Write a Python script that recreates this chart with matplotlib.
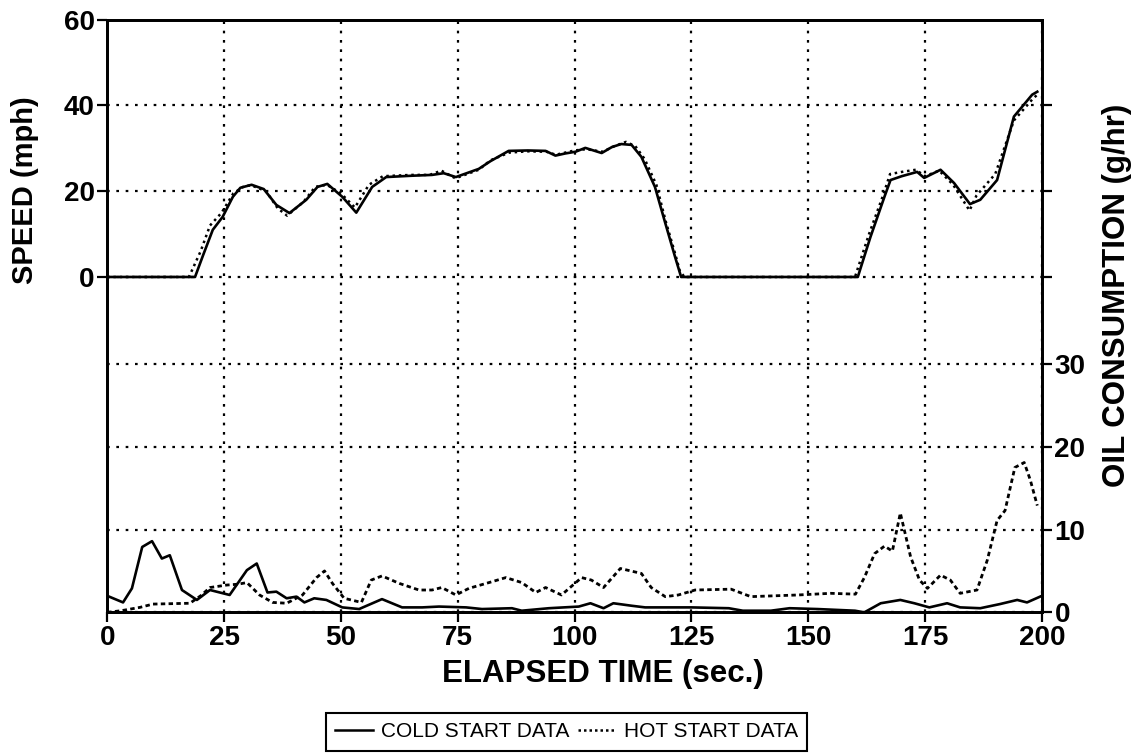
import matplotlib
matplotlib.use('Agg')
import matplotlib.pyplot as plt
from matplotlib.lines import Line2D

plt.rcParams['font.family'] = ['Liberation Sans', 'DejaVu Sans']

# speed traces (mph)
speed_t_cold = [0, 18.8, 20.5, 22.6, 24.7, 26.9, 28.5, 30.9, 33.5, 36.2, 39, 42.6, 45, 47.1, 50.3,
                53.3, 56.7, 59.7, 65, 69.5, 72, 74.6, 79.5, 82, 85.9, 90, 93.8, 95.9, 98, 100.2,
                102.3, 105.8, 108, 110, 112.2, 114.3, 117.2, 119.4, 121.5, 122.8, 140, 160.6, 163.3,
                166.3, 167.6, 170, 173.3, 174.8, 178.3, 181.2, 184.6, 186.8, 190.4, 194, 197.9, 199]
speed_cold = [0, 0, 5, 11, 14, 18.7, 20.8, 21.5, 20.5, 16.8, 14.9, 18, 21, 21.7, 18.7,
              15, 21, 23.3, 23.6, 23.8, 24.2, 23.3, 25.2, 27, 29.4, 29.5, 29.4, 28.3, 28.8, 29.2,
              30.1, 28.9, 30.3, 31, 30.8, 28, 21, 12.6, 4.7, 0, 0, 0, 9.3,
              18.7, 22.6, 23.5, 24.5, 23.1, 25, 21.9, 17, 18, 22.6, 37.4, 42.5, 43.2]

speed_t_hot = [0, 17.5, 20, 22, 24.5, 27, 29.5, 31, 34, 36.5, 38.5, 42, 44.5, 47, 50, 53, 56, 59,
               65, 69, 71.5, 74.5, 79.5, 82, 86, 90, 94, 96, 98, 100, 102.5, 106, 108.5, 111, 113,
               115, 117.5, 119.5, 121.5, 122.5, 123.5, 140, 160, 163, 166, 167.5, 170, 173, 175,
               178, 181, 184.5, 186, 190, 194, 198, 199]
speed_hot = [0, 0, 6, 12, 15, 19.5, 21.3, 21.3, 20.0, 16.0, 14.3, 17.5, 21.0, 21.5, 19.5, 16.2, 21.5, 23.5,
             23.8, 23.8, 24.8, 23.0, 25.0, 27.2, 29.0, 29.3, 29.2, 28.5, 29.0, 29.5, 29.8, 29.2, 30.5, 31.5, 30.5,
             27.5, 21.5, 13.0, 5.5, 1.5, 0, 0, 0, 10, 19, 24, 24.5, 25.0, 23.5,
             24.8, 21.5, 15.5, 19, 24, 36.5, 41.5, 42.5]

# oil consumption traces (g/hr)
oil_t_cold = [0, 1.7, 3.4, 5.3, 7.5, 9.6, 11.7, 13.4, 16, 19.2, 22, 24.1, 26.2, 29.9, 32, 34.3, 36.2,
              38.4, 40.5, 42.2, 44.3, 46.9, 50.3, 53.9, 58.8, 63.1, 67.4, 71, 76.8, 80.2, 86.6, 88.7,
              94.5, 100.9, 103.4, 106.2, 108.3, 112.2, 115.1, 125, 133, 136, 142, 146, 152, 160, 162,
              165.5, 169.7, 172.7, 175.9, 179.7, 182.5, 186.8, 191, 194.7, 196.8, 200]
oil_cold = [2.0, 1.6, 1.2, 2.9, 7.9, 8.6, 6.5, 6.9, 2.7, 1.5, 2.7, 2.4, 2.1, 5.1, 5.9, 2.4, 2.5,
            1.7, 1.9, 1.2, 1.7, 1.5, 0.6, 0.4, 1.6, 0.6, 0.6, 0.7, 0.6, 0.4, 0.5, 0.2,
            0.5, 0.7, 1.1, 0.5, 1.1, 0.8, 0.6, 0.6, 0.5, 0.2, 0.2, 0.5, 0.4, 0.2, 0,
            1.1, 1.5, 1.1, 0.6, 1.1, 0.6, 0.5, 1.0, 1.5, 1.2, 2.0]

oil_t_hot = [0, 3, 7, 9.8, 17.7, 20, 22, 25.6, 28, 29.9, 32.6, 35.4, 38.4, 41.8, 44.8, 46.5, 48.2,
             50.7, 54.4, 56.5, 58.8, 62.5, 66.7, 69.5, 71.6, 74.6, 77.4, 81.7, 85.3, 88.7, 91.7,
             93.8, 97.2, 101.5, 103.6, 106.2, 109.8, 114.3, 116.4, 119.4, 122.2, 125.8, 133.5,
             137.7, 147.8, 154.8, 160.1, 162, 164.2, 166.3, 168, 169.7, 171.9, 173.8, 175.5, 178.3,
             180.4, 182.5, 186.1, 188.3, 190.4, 192.1, 194.2, 196.2, 197.5, 199]
oil_hot = [0, 0.2, 0.6, 1.0, 1.1, 2.0, 3.0, 3.3, 3.4, 3.6, 2.1, 1.2, 1.1, 2.1, 4.2, 5.0, 3.5,
           1.7, 1.2, 3.9, 4.4, 3.5, 2.7, 2.7, 3.0, 2.1, 2.9, 3.6, 4.2, 3.6, 2.4,
           3.0, 2.1, 4.2, 3.9, 3.0, 5.3, 4.7, 3.0, 1.9, 2.1, 2.7, 2.8,
           1.9, 2.1, 2.3, 2.2, 4.2, 7.1, 8.0, 7.4, 12.0, 6.7, 3.9, 2.9, 4.5,
           3.9, 2.3, 2.7, 6.3, 11.1, 12.3, 17.5, 18.1, 16, 12.9]

x_ticks = [0, 25, 50, 75, 100, 125, 150, 175, 200]
speed_ticks = [0, 20, 40, 60]
oil_ticks = [0, 10, 20, 30]

grid_style = dict(color='black', linestyle=(0, (1.2, 3)), linewidth=1.6)

fig = plt.figure(figsize=(11.4, 7.56), dpi=100)
ax = fig.add_axes([0.094, 0.19, 0.82, 0.784])
ax2 = ax.twinx()

ax.plot(speed_t_hot, speed_hot, color='black', linestyle=(0, (1, 1.5)), linewidth=1.8)
ax.plot(speed_t_cold, speed_cold, color='black', linewidth=1.9)
ax2.plot(oil_t_hot, oil_hot, color='black', linestyle=(0, (1.6, 1.2)), linewidth=2.0)
ax2.plot(oil_t_cold, oil_cold, color='black', linewidth=1.9)

ax.set_xlim(0, 200)
ax.set_ylim(-78.2, 60)
ax2.set_ylim(0, 71.6)
ax.set_xticks(x_ticks)
ax.set_yticks(speed_ticks)
ax2.set_yticks(oil_ticks)

ax.xaxis.grid(True, **grid_style)
ax.yaxis.grid(True, **grid_style)
ax2.yaxis.grid(True, **grid_style)

for a in (ax, ax2):
    for s in a.spines.values():
        s.set_linewidth(2)
ax.tick_params(axis='both', direction='out', length=7, width=1.6, labelsize=20, pad=2)
ax.tick_params(axis='y', right=True, labelright=False)
ax2.tick_params(axis='y', direction='out', length=7, width=1.6, labelsize=20, pad=2)
# no right-side tick at the top corner
ax.yaxis.get_major_ticks()[-1].tick2line.set_visible(False)
for lab in ax.get_xticklabels() + ax.get_yticklabels() + ax2.get_yticklabels():
    lab.set_fontweight('bold')

ax.set_xlabel('ELAPSED TIME (sec.)', fontsize=22.5, fontweight='bold')
ax.xaxis.set_label_coords(0.53, -0.079)
ax.set_ylabel('SPEED (mph)', fontsize=21, fontweight='bold')
ax.yaxis.set_label_coords(-0.073, 0.713)
ax2.set_ylabel('OIL CONSUMPTION (g/hr)', fontsize=22.5, fontweight='bold', rotation=90)
ax2.yaxis.set_label_coords(1.064, 0.534)

handles = [Line2D([], [], color='black', linewidth=1.8),
           Line2D([], [], color='black', linestyle=(0, (1, 1.2)), linewidth=1.8)]
leg = fig.legend(handles, ['COLD START DATA', 'HOT START DATA'], loc='center',
                 bbox_to_anchor=(0.497, 0.032), ncol=2, fontsize=15, frameon=True,
                 fancybox=False, edgecolor='black', framealpha=1, handlelength=1.8,
                 handletextpad=0.4, columnspacing=0.4, borderpad=0.45)
leg.get_frame().set_linewidth(1.5)

fig.savefig('out.png', dpi=100)
